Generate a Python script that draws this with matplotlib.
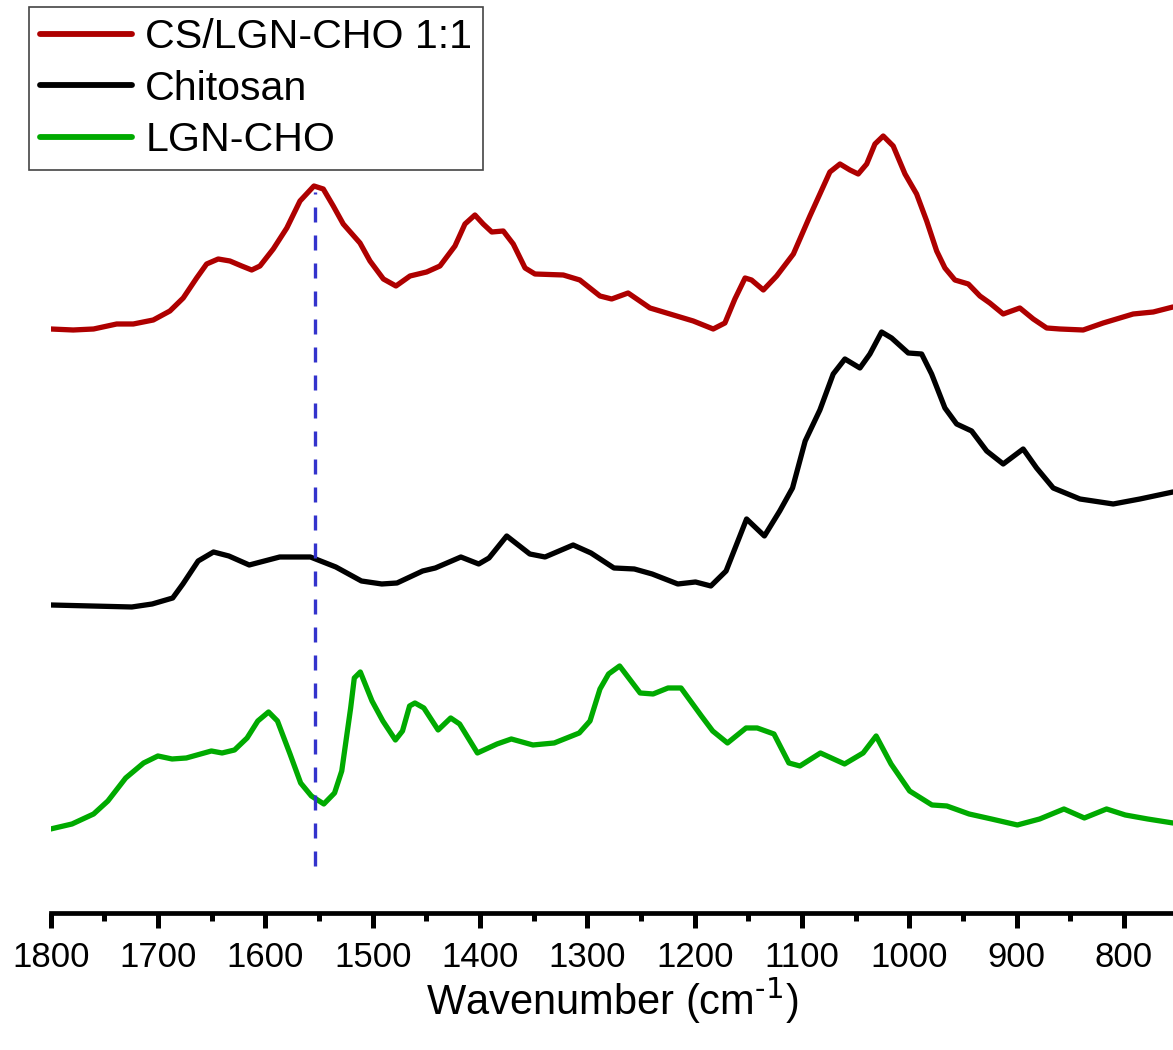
import matplotlib
matplotlib.use("Agg")
import matplotlib.pyplot as plt
from matplotlib.ticker import MultipleLocator

plt.rcParams['font.family'] = ['Liberation Sans', 'DejaVu Sans']

# FTIR spectra (wavenumber in cm^-1, stacked intensity in a.u.)
wn_blend = [1800, 1779, 1760, 1738.5, 1723, 1704.4, 1688.9, 1676.5, 1664, 1654.7,
            1643.9, 1633, 1622, 1612.7, 1605, 1592.6, 1580, 1567.7, 1554.7, 1546,
            1536.7, 1527.4, 1511.8, 1502.5, 1490, 1478.3, 1465.2, 1449.7, 1437.3, 1423.3,
            1414, 1404.7, 1397, 1389, 1378.3, 1369, 1358, 1348.8, 1322.4, 1307,
            1288.2, 1277.3, 1262, 1241.6, 1223, 1201.3, 1182.7, 1171.8, 1162.5, 1153,
            1147, 1136, 1123.6, 1108, 1092.6, 1074, 1064.6, 1055.3, 1047.6, 1039.7,
            1032, 1024.3, 1015, 1004, 993.2, 983.8, 974.5, 966.8, 957.5, 945,
            934.2, 925, 912.5, 897, 884.5, 872, 859.7, 838, 819.3, 791.4,
            772.7, 754.4]
ab_blend = [5.84, 5.83, 5.84, 5.89, 5.89, 5.93, 6.02, 6.15, 6.35, 6.49,
            6.54, 6.52, 6.47, 6.43, 6.47, 6.64, 6.85, 7.12, 7.27, 7.24,
            7.07, 6.89, 6.70, 6.52, 6.34, 6.27, 6.37, 6.41, 6.47, 6.67,
            6.89, 6.98, 6.89, 6.81, 6.82, 6.69, 6.45, 6.39, 6.38, 6.33,
            6.17, 6.14, 6.20, 6.05, 5.99, 5.92, 5.84, 5.90, 6.14, 6.35,
            6.33, 6.23, 6.37, 6.59, 6.97, 7.41, 7.49, 7.43, 7.39, 7.49,
            7.69, 7.77, 7.67, 7.39, 7.19, 6.92, 6.62, 6.45, 6.33, 6.29,
            6.17, 6.10, 5.99, 6.05, 5.94, 5.85, 5.84, 5.83, 5.90, 5.99,
            6.01, 6.06]

wn_chitosan = [1800, 1762.5, 1724.4, 1705.4, 1686.3, 1676.8, 1662.6, 1648.3, 1634, 1615,
               1600.8, 1586.6, 1558, 1534.3, 1510.5, 1491.5, 1477.3, 1453.4, 1441.6, 1417.8,
               1401.2, 1391.6, 1375.1, 1353.6, 1339.4, 1313.2, 1296.6, 1275.2, 1256.2, 1239.6,
               1215.7, 1199.2, 1184.9, 1170.7, 1151.6, 1135, 1120.7, 1108.8, 1097, 1083.3,
               1070.9, 1060, 1046, 1036.7, 1025.8, 1016.5, 1001, 988.5, 979.2, 966.8,
               955.9, 941.9, 927.9, 912.5, 893.9, 881.4, 865.9, 841, 810, 785.1,
               754.4]
ab_chitosan = [3.08, 3.07, 3.06, 3.09, 3.15, 3.29, 3.52, 3.61, 3.57, 3.48,
               3.52, 3.56, 3.56, 3.46, 3.32, 3.29, 3.30, 3.42, 3.45, 3.56,
               3.49, 3.55, 3.77, 3.59, 3.56, 3.68, 3.60, 3.45, 3.44, 3.39,
               3.29, 3.31, 3.27, 3.42, 3.94, 3.77, 4.02, 4.25, 4.72, 5.03,
               5.39, 5.54, 5.45, 5.59, 5.81, 5.75, 5.60, 5.59, 5.39, 5.05,
               4.89, 4.82, 4.62, 4.49, 4.64, 4.45, 4.25, 4.14, 4.09, 4.14,
               4.21]

wn_lignin = [1800, 1780.1, 1760, 1746.7, 1730.1, 1713.4, 1700.1, 1686.9, 1673.6, 1650.3,
             1640.3, 1628.7, 1617, 1607, 1597, 1588.7, 1577, 1567.1, 1557.1, 1545.5,
             1535.5, 1528.8, 1520.5, 1517.1, 1511.5, 1500.6, 1490.5, 1478.8, 1472.2, 1465.6,
             1460.6, 1452.3, 1439, 1427.3, 1419, 1402.4, 1384.1, 1370.8, 1350.7, 1330.8,
             1307.5, 1297.5, 1288.2, 1280.2, 1269.9, 1250.8, 1238.7, 1224.8, 1212.7, 1193.7,
             1183.2, 1169.4, 1152.1, 1141.7, 1126.1, 1112.2, 1101.9, 1082.8, 1060.3, 1043,
             1030.9, 1017, 999.7, 978.9, 965, 944.3, 923.5, 899.3, 878.5, 855.9,
             836.9, 816.2, 798.8, 778, 754.4]
ab_lignin = [0.84, 0.89, 0.99, 1.12, 1.35, 1.50, 1.57, 1.54, 1.55, 1.62,
             1.60, 1.63, 1.75, 1.92, 2.01, 1.92, 1.59, 1.30, 1.17, 1.09,
             1.20, 1.42, 2.05, 2.35, 2.41, 2.12, 1.92, 1.73, 1.82, 2.07,
             2.10, 2.05, 1.83, 1.95, 1.89, 1.60, 1.69, 1.74, 1.68, 1.70,
             1.80, 1.92, 2.24, 2.39, 2.47, 2.20, 2.19, 2.25, 2.25, 1.97,
             1.82, 1.70, 1.85, 1.85, 1.79, 1.50, 1.47, 1.60, 1.49, 1.60,
             1.77, 1.49, 1.22, 1.08, 1.07, 0.99, 0.94, 0.88, 0.94, 1.04,
             0.95, 1.04, 0.98, 0.94, 0.90]

series_labels = ["CS/LGN-CHO 1:1", "Chitosan", "LGN-CHO"]
series_colors = ["#AE0000", "#000000", "#00AA00"]

marker_wn = 1554
marker_span = (0.47, 7.21)

fig = plt.figure(figsize=(11.73, 10.5), dpi=100)
ax = fig.add_axes([0.0432, 0.1305, 0.9568, 0.8695])

for wn, ab, lab, col in zip([wn_blend, wn_chitosan, wn_lignin],
                            [ab_blend, ab_chitosan, ab_lignin],
                            series_labels, series_colors):
    ax.plot(wn, ab, color=col, lw=3.8, label=lab, solid_joinstyle='round',
            solid_capstyle='round')

ax.plot([marker_wn, marker_wn], marker_span, color="#3333CC", lw=2.4,
        dashes=(4.5, 3.9))

ax.set_xlim(1800, 754.3)
ax.set_ylim(0, 9.13)

for side in ("left", "right", "top"):
    ax.spines[side].set_visible(False)
ax.spines["bottom"].set_linewidth(3.4)
ax.set_yticks([])
ax.xaxis.set_major_locator(MultipleLocator(100))
ax.xaxis.set_minor_locator(MultipleLocator(50))
ax.tick_params(axis='x', which='major', direction='out', length=11, width=3.6,
               labelsize=25, pad=9)
ax.tick_params(axis='x', which='minor', direction='out', length=6, width=3.6)
ax.set_xlabel(r"Wavenumber (cm$^{\text{-1}}$)", fontsize=30, labelpad=1)

leg = ax.legend(loc='upper left', bbox_to_anchor=(29 / 1173, 1 - 7 / 1050),
                bbox_transform=fig.transFigure, fontsize=29.6, frameon=True,
                fancybox=False, edgecolor="#444444", framealpha=1,
                handlelength=2.24, handletextpad=0.32, labelspacing=0.33,
                borderpad=0.27, borderaxespad=0)
leg.get_frame().set_linewidth(1.2)
for line in leg.get_lines():
    line.set_linewidth(4.2)

fig.savefig("out.png", dpi=100)
